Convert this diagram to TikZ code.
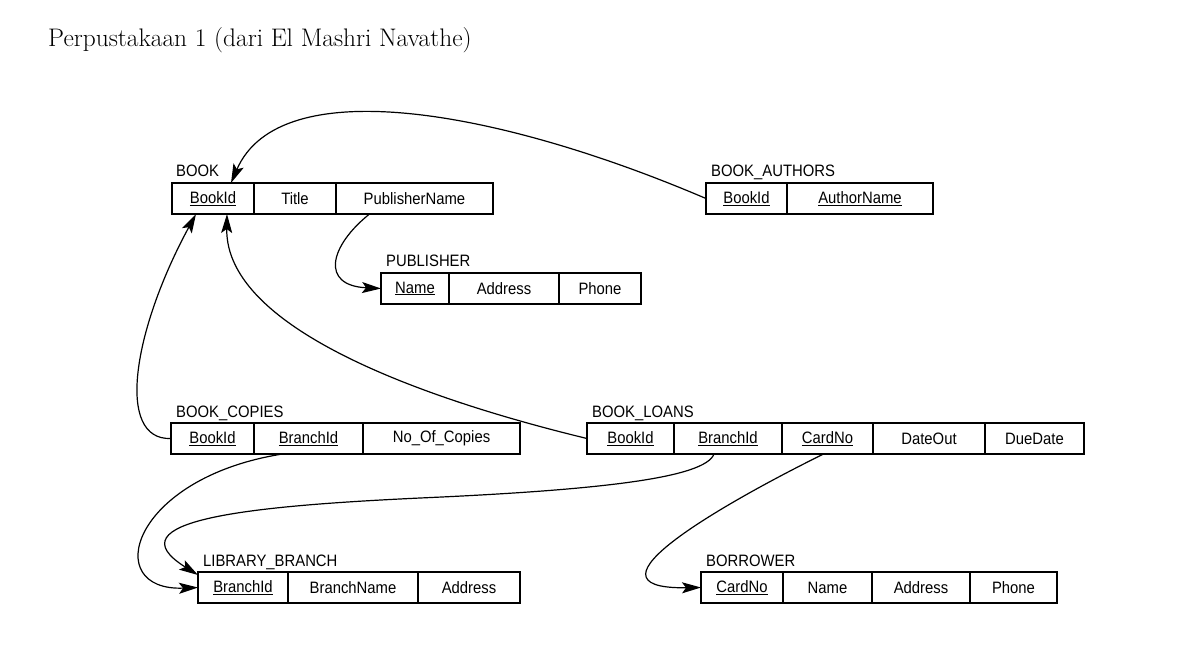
\documentclass[tikz,border=0pt]{standalone}
\usepackage{fontspec}
\newfontfamily\relfont[FakeStretch=0.9]{Liberation Sans}
\usetikzlibrary{positioning,arrows.meta}
\newcommand\keyattr[1]{\underline{#1}}

\begin{document}
\begin{tikzpicture}[x=1pt,y=-1pt]
  \useasboundingbox (0,0) rectangle (1183,670);
  \node[anchor=base west,inner sep=0pt,font=\fontsize{25.4}{30}\selectfont] (title) at (48,46)
    {Perpustakaan 1 (dari El Mashri Navathe)};
  \begin{scope}[
    node distance=0pt,
    every node/.style={
      draw,
      line width=1.3pt,
      minimum height=31pt,
      inner sep=0pt,
      outer sep=0pt,
      font=\relfont\fontsize{16.5}{18}\selectfont,
    },
    ]
    % BOOK
    \node[minimum width=82pt,anchor=north west] (bookBookId) at (172,183) {\keyattr{BookId}};
    \node[minimum width=82pt,right=of bookBookId] (bookTitle) {Title};
    \node[minimum width=157pt,right=of bookTitle] (bookPublisher) {PublisherName};
    % BOOK_AUTHORS
    \node[minimum width=81pt,anchor=north west] (authBookId) at (706,183) {\keyattr{BookId}};
    \node[minimum width=146pt,right=of authBookId] (authName) {\keyattr{AuthorName}};
    % PUBLISHER
    \node[minimum width=68pt,anchor=north west] (pubName) at (381,273) {\keyattr{Name}};
    \node[minimum width=110pt,right=of pubName] (pubAddress) {Address};
    \node[minimum width=82pt,right=of pubAddress] (pubPhone) {Phone};
    % BOOK_COPIES
    \node[minimum width=83pt,anchor=north west] (copiesBookId) at (171,423) {\keyattr{BookId}};
    \node[minimum width=109pt,right=of copiesBookId] (copiesBranchId) {\keyattr{BranchId}};
    \node[minimum width=157pt,right=of copiesBranchId] (copiesNum) {No\_Of\_Copies};
    % BOOK_LOANS
    \node[minimum width=87pt,anchor=north west] (loansBookId) at (587,423) {\keyattr{BookId}};
    \node[minimum width=108pt,right=of loansBookId] (loansBranchId) {\keyattr{BranchId}};
    \node[minimum width=91pt,right=of loansBranchId] (loansCardNo) {\keyattr{CardNo}};
    \node[minimum width=112pt,right=of loansCardNo] (loansDateOut) {DateOut};
    \node[minimum width=99pt,right=of loansDateOut] (loansDueDate) {DueDate};
    % LIBRARY_BRANCH
    \node[minimum width=90pt,anchor=north west] (branchBranchId) at (198,572) {\keyattr{BranchId}};
    \node[minimum width=130pt,right=of branchBranchId] (branchName) {BranchName};
    \node[minimum width=102pt,right=of branchName] (branchAddress) {Address};
    % BORROWER
    \node[minimum width=82pt,anchor=north west] (borrCardNo) at (701,572) {\keyattr{CardNo}};
    \node[minimum width=89pt,right=of borrCardNo] (borrName) {Name};
    \node[minimum width=98pt,right=of borrName] (borrAddress) {Address};
    \node[minimum width=87pt,right=of borrAddress] (borrPhone) {Phone};
  \end{scope}
  \begin{scope}[
    every node/.style={
      inner sep=0pt,
      font=\relfont\fontsize{16.5}{18}\selectfont,
    },
    ]
    \node[above right=6.5pt and 4pt of bookBookId.north west,anchor=base west] (bookLabel) {BOOK};
    \node[above right=6.5pt and 5pt of authBookId.north west,anchor=base west] (authLabel) {BOOK\_AUTHORS};
    \node[above right=6.5pt and 5pt of pubName.north west,anchor=base west] (pubLabel) {PUBLISHER};
    \node[above right=6pt and 5pt of copiesBookId.north west,anchor=base west] (copiesLabel) {BOOK\_COPIES};
    \node[above right=6pt and 5pt of loansBookId.north west,anchor=base west] (loansLabel) {BOOK\_LOANS};
    \node[above right=6pt and 5pt of branchBranchId.north west,anchor=base west] (branchLabel) {LIBRARY\_BRANCH};
    \node[above right=6pt and 5pt of borrCardNo.north west,anchor=base west] (borrLabel) {BORROWER};
  \end{scope}
  \begin{scope}[
    every path/.style={draw,line width=1.2pt},
    fk/.style={-{Stealth[length=19pt,width=11pt,inset=4pt]}},
    ]
    \coordinate (loanBend) at (420,498);
    \path[fk] (authBookId.west) .. controls +(-206,-88) and +(49,-113) .. ([xshift=18pt]bookBookId.north);
    \path[fk] ([xshift=-45pt]bookPublisher.south) .. controls +(-40,32) and +(-61,-3) .. (pubName.west);
    \path[fk] (copiesBookId.west) .. controls +(-56,2) and +(-63,116) .. ([xshift=-17pt]bookBookId.south);
    \path[fk] (loansBookId.west) .. controls +(-157,-38) and +(-2,116) .. ([xshift=14pt]bookBookId.south);
    \path[fk] ([xshift=-26pt]copiesBranchId.south) .. controls +(-152,24) and +(-98,4) .. (branchBranchId.west);
    \path[fk] ([xshift=-14pt]loansBranchId.south) .. controls +(-9,24) and +(180,-8) .. (loanBend)
      .. controls +(-170,8) and +(-88,-55) .. ([yshift=-3pt]branchBranchId.north west);
    \path[fk] ([xshift=-4pt]loansCardNo.south) .. controls +(-93,46) and +(-131,2) .. (borrCardNo.west);
  \end{scope}
\end{tikzpicture}
\end{document}
